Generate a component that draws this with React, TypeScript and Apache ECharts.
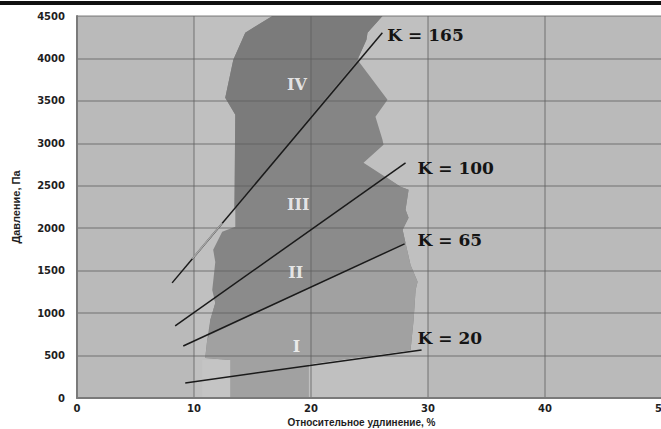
import React, { useEffect, useRef } from "react";
import * as echarts from "echarts";

const xMin = 0;
const xMax = 50;
const xStep = 10;
const yMin = 0;
const yMax = 4500;
const yStep = 500;

const xAxisTitle = "Относительное удлинение, %";
const yAxisTitle = "Давление, Па";

// straight lines (start / end points)
const lineK165 = [[8.13, 1356], [26.1, 4303]];
const lineK165Light = [[9.85, 1640], [12.41, 2060]];
const lineK100 = [[8.39, 849], [28.08, 2771]];
const lineK65 = [[9.08, 613], [28.0, 1816]];
const lineK20 = [[9.25, 177], [29.45, 566]];
const lineNames = ["K = 165", "K = 100", "K = 65", "K = 20"];

// shaded zones (vertices in data units)
const lightBand = [[10, 0], [30, 0], [30, 4500], [10, 4500]];
const zoneOutline = [
  [16.7, 4500], [14.38, 4303], [13.36, 3985], [12.67, 3537], [13.53, 3337],
  [13.53, 2016], [12.41, 1957], [11.64, 1745], [11.82, 1603], [11.56, 1273],
  [11.82, 1120], [11.39, 920], [11.13, 684], [10.96, 472], [13.1, 448],
  [13.1, 0], [19.78, 0], [19.78, 401], [28.51, 566], [28.77, 920],
  [28.94, 1273], [29.11, 1368], [28.51, 1568], [28.08, 1827], [27.83, 1981],
  [28.34, 2122], [28.08, 2217], [28.34, 2452], [27.65, 2488], [24.49, 2771],
  [26.2, 2983], [26.11, 3042], [25.51, 3313], [26.54, 3513], [23.97, 3985],
  [24.74, 4221], [24.83, 4303], [26.11, 4500],
];
const zoneIV = [
  [16.7, 4500], [26.11, 4500], [24.83, 4303], [24.74, 4221], [23.97, 3985],
  [13.44, 2240], [13.53, 3337], [12.67, 3537], [13.36, 3985], [14.38, 4303],
];
const zoneII = [
  [11.73, 1167], [26.37, 2606], [27.65, 2488], [28.34, 2452], [28.08, 2217],
  [28.34, 2122], [27.83, 1981], [28.08, 1827], [11.3, 740], [11.39, 920],
  [11.82, 1120],
];
const zoneI = [
  [11.3, 740], [28.08, 1827], [28.51, 1568], [29.11, 1368], [28.94, 1273],
  [28.77, 920], [28.51, 566], [19.78, 401], [19.78, 0], [13.1, 0],
  [13.1, 448], [10.96, 472], [11.13, 684],
];
const lightPatch = [[10.7, 0], [13.1, 0], [13.1, 448], [10.7, 448]];

const romanNames = ["IV", "III", "II", "I"];
const romanX = [18.8, 18.9, 18.7, 18.75];
const romanY = [3690, 2275, 1474, 601];

const polySeries = (pts: number[][], color: string, z: number) => ({
  type: "custom",
  coordinateSystem: "cartesian2d",
  data: [[pts[0][0], pts[0][1]]],
  clip: true,
  silent: true,
  z,
  renderItem: (_params: any, api: any) => ({
    type: "polygon",
    shape: { points: pts.map((p) => api.coord(p)) },
    style: { fill: color, stroke: null },
  }),
});

const lineSeries = (name: string, data: number[][], offset: number[]) => ({
  name,
  type: "line",
  data,
  symbol: "none",
  z: 5,
  silent: true,
  lineStyle: { color: "#1a1a1a", width: 1.5 },
  endLabel: {
    show: true,
    formatter: name,
    fontFamily: "DejaVu Serif",
    fontWeight: "bold",
    fontSize: 17,
    color: "#141414",
    distance: 5,
    offset,
  },
});

export default function App() {
  const ref = useRef<HTMLDivElement>(null);
  useEffect(() => {
    if (!ref.current) return;
    const chart = echarts.init(ref.current, null, { renderer: "svg" });
    const gridColor = "rgba(95,95,95,0.4)";
    chart.setOption({
      animation: false,
      backgroundColor: "#ffffff",
      grid: {
        left: 77,
        top: 16,
        width: 585,
        height: 382,
        backgroundColor: "#bababa",
        show: true,
        borderWidth: 0,
        containLabel: false,
        outerBoundsMode: "none",
      },
      graphic: [
        { type: "rect", left: 0, top: 1, shape: { width: 661, height: 4 }, style: { fill: "#111" } },
      ],
      xAxis: {
        type: "value",
        min: xMin,
        max: xMax,
        interval: xStep,
        z: 3,
        name: xAxisTitle,
        nameLocation: "middle",
        nameGap: 18,
        nameTextStyle: {
          fontFamily: "Liberation Sans",
          fontWeight: "bold",
          fontSize: 10,
          color: "#1e1e1e",
          padding: [0, 16, 0, 0],
        },
        axisLine: { show: true, lineStyle: { color: "#7a7a7a", width: 2 } },
        axisTick: { show: false },
        axisLabel: {
          fontFamily: "DejaVu Sans",
          fontWeight: "bold",
          fontSize: 10,
          color: "#1e1e1e",
          margin: 5,
          hideOverlap: false,
          formatter: (v: number) => String(v),
        },
        splitLine: { show: true, lineStyle: { color: gridColor, width: 2 } },
      },
      yAxis: {
        type: "value",
        min: yMin,
        max: yMax,
        interval: yStep,
        z: 3,
        name: yAxisTitle,
        nameLocation: "middle",
        nameGap: 56,
        nameTextStyle: { fontFamily: "Liberation Sans", fontWeight: "bold", fontSize: 11, color: "#1e1e1e" },
        axisLine: { show: true, lineStyle: { color: "#7a7a7a", width: 2 } },
        axisTick: { show: false },
        axisLabel: {
          fontFamily: "DejaVu Sans",
          fontWeight: "bold",
          fontSize: 10,
          color: "#1e1e1e",
          margin: 12,
          formatter: (v: number) => String(v),
        },
        splitLine: { show: true, lineStyle: { color: gridColor, width: 2 } },
      },
      series: [
        polySeries(lightBand, "#c0c0c0", 1),
        polySeries(zoneOutline, "#858585", 1),
        polySeries(zoneIV, "#7b7b7b", 1),
        polySeries(zoneII, "#8b8b8b", 1),
        polySeries(zoneI, "#a1a1a1", 1),
        polySeries(lightPatch, "#c4c4c4", 1),
        lineSeries(lineNames[0], lineK165, [0, 2]),
        lineSeries(lineNames[1], lineK100, [7, 5]),
        lineSeries(lineNames[2], lineK65, [8, -4]),
        lineSeries(lineNames[3], lineK20, [-9, -12]),
        {
          type: "line",
          data: lineK165Light,
          symbol: "none",
          z: 6,
          silent: true,
          lineStyle: { color: "#a8a8a8", width: 1.5 },
        },
        {
          type: "scatter",
          z: 6,
          silent: true,
          symbolSize: 2,
          itemStyle: { color: "transparent" },
          data: romanNames.map((n, i) => ({ name: n, value: [romanX[i], romanY[i]] })),
          label: {
            show: true,
            position: "inside",
            formatter: "{b}",
            fontFamily: "DejaVu Serif",
            fontWeight: "bold",
            fontSize: 16,
            color: "#ffffff",
          },
        },
      ],
    });
    return () => chart.dispose();
  }, []);
  return (
    <div
      ref={ref}
      style={{ position: "fixed", left: 0, top: 0, width: 661, height: 429, background: "#fff" }}
    />
  );
}
